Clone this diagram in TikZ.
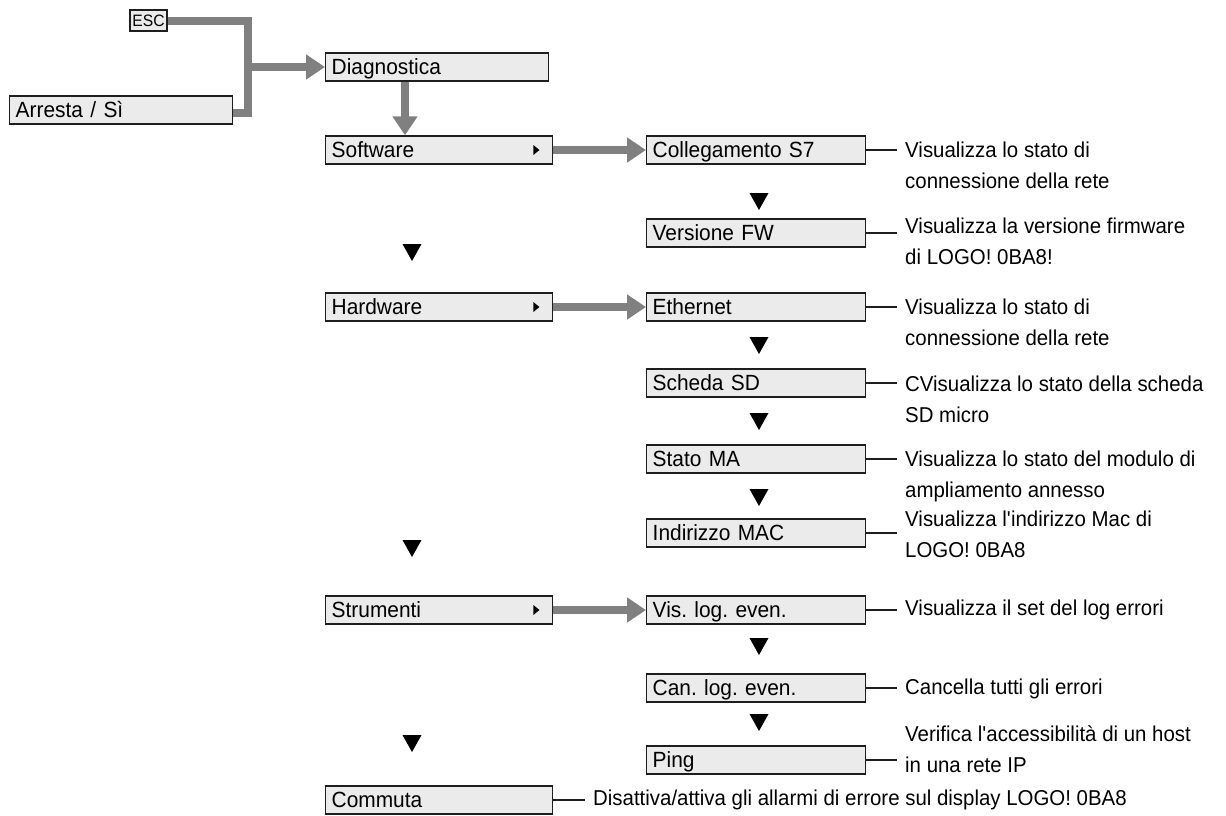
\documentclass[tikz,border=0pt]{standalone}
\usepackage{fontspec}
\setmainfont[FakeStretch=0.95]{Liberation Sans}
\usepackage{tikz}
\usetikzlibrary{arrows.meta,positioning,calc}
\definecolor{boxfill}{HTML}{EBEBEB}
\definecolor{boxline}{HTML}{1E1E1E}
\definecolor{bargray}{HTML}{808080}
\newcommand\menufont{\fontsize{22}{26}\selectfont\frenchspacing}
\newcommand\notefont{\fontsize{21.5}{31}\selectfont\frenchspacing}

\begin{document}
\begin{tikzpicture}[x=1pt,y=-1pt,
    menubox/.style={draw=boxline,line width=1.4pt,fill=boxfill,anchor=west,
                    minimum height=28pt,inner xsep=6pt,inner ysep=0pt,
                    text height=17pt,text depth=2.5pt,align=left,font=\menufont},
    leftbox/.style={menubox,text width=215pt},
    rightbox/.style={menubox,text width=207pt},
    keybox/.style={draw=boxline,line width=1.2pt,fill=boxfill,inner sep=0pt,
                   minimum width=37pt,minimum height=21pt,font=\fontsize{16.5}{18}\selectfont},
    note/.style={anchor=west,align=left,inner xsep=8pt,inner ysep=0pt,font=\notefont},
    bar/.style={line width=8pt,color=bargray},
    bararr/.style={bar,-{Triangle[length=19pt,width=24pt]}},
    lead/.style={line width=2pt,color=boxline}
  ]
    \useasboundingbox (0,0) rectangle (1226,815);

    % entry
    \node[keybox] (esc) at (148.5,20.5) {ESC};
    \node[menubox,text width=211pt] (stop) at (9,110) {Arresta / Sì};
    \node[menubox,text width=211pt] (diag) at (325,67) {Diagnostica};

    % main menu
    \node[leftbox] (sw) at (325,150) {Software};
    \node[leftbox] (hw) at (325,307) {Hardware};
    \node[leftbox] (tools) at (325,610) {Strumenti};
    \node[leftbox] (tgl) at (325,800) {Commuta};

    % submenus
    \node[rightbox] (s7) at (646,150) {Collegamento S7};
    \node[rightbox] (fw) at (646,233) {Versione FW};
    \node[rightbox] (eth) at (646,307) {Ethernet};
    \node[rightbox] (sd) at (646,383) {Scheda SD};
    \node[rightbox] (ma) at (646,459) {Stato MA};
    \node[rightbox] (mac) at (646,533) {Indirizzo MAC};
    \node[rightbox] (evlog) at (646,610) {Vis. log. even.};
    \node[rightbox] (evclr) at (646,688) {Can. log. even.};
    \node[rightbox] (ping) at (646,760) {Ping};

    % notes
    \node[note] (ns7) at (897,165) {Visualizza lo stato di\\connessione della rete};
    \node[note] (nfw) at (897,241) {Visualizza la versione firmware\\di LOGO! 0BA8!};
    \node[note] (neth) at (897,322) {Visualizza lo stato di\\connessione della rete};
    \node[note] (nsd) at (897,399) {CVisualizza lo stato della scheda\\SD micro};
    \node[note] (nma) at (897,476) {Visualizza lo stato del modulo di\\ampliamento annesso};
    \node[note] (nmac) at (897,534) {Visualizza l\textquotesingle indirizzo Mac di\\LOGO! 0BA8};
    \node[note] (nevlog) at (897,610) {Visualizza il set del log errori};
    \node[note] (nevclr) at (897,689) {Cancella tutti gli errori};
    \node[note] (nping) at (897,749) {Verifica l\textquotesingle accessibilità di un host\\in una rete IP};
    \node[note] (ntgl) at (585,800) {Disattiva/attiva gli allarmi di errore sul display LOGO! 0BA8};

    \foreach \b/\n in {s7/ns7,fw/nfw,eth/neth,sd/nsd,ma/nma,mac/nmac,
                       evlog/nevlog,evclr/nevclr,ping/nping,tgl/ntgl}
      \draw[lead] (\b.east) -- (\b.east -| \n.west);

    % gray flow
    \coordinate (join) at (248,67);
    \draw[bar] (esc.east) -| (join) |- ([yshift=-3pt]stop.east);
    \draw[bararr] (join) -- (diag.west);
    \draw[bararr] ([xshift=80pt]diag.south west) -- ([xshift=80pt]sw.north west);
    \draw[bararr] (sw.east) -- (s7.west);
    \draw[bararr] (hw.east) -- (eth.west);
    \draw[bararr] (tools.east) -- (evlog.west);

    % submenu marks
    \foreach \m in {sw,hw,tools}
      \fill[black] ([shift={(-20,-5)}]\m.east) -- ++(6,5) -- ++(-6,5) -- cycle;

    % scroll marks
    \foreach \x/\y in {759/201,759/345,759/421,759/497,759/646,759/722,
                       412/252,412/548,412/743}
      \fill[black] (\x,\y) ++(-9.5,-8) -- ++(19,0) -- ++(-9.5,17) -- cycle;
\end{tikzpicture}
\end{document}
